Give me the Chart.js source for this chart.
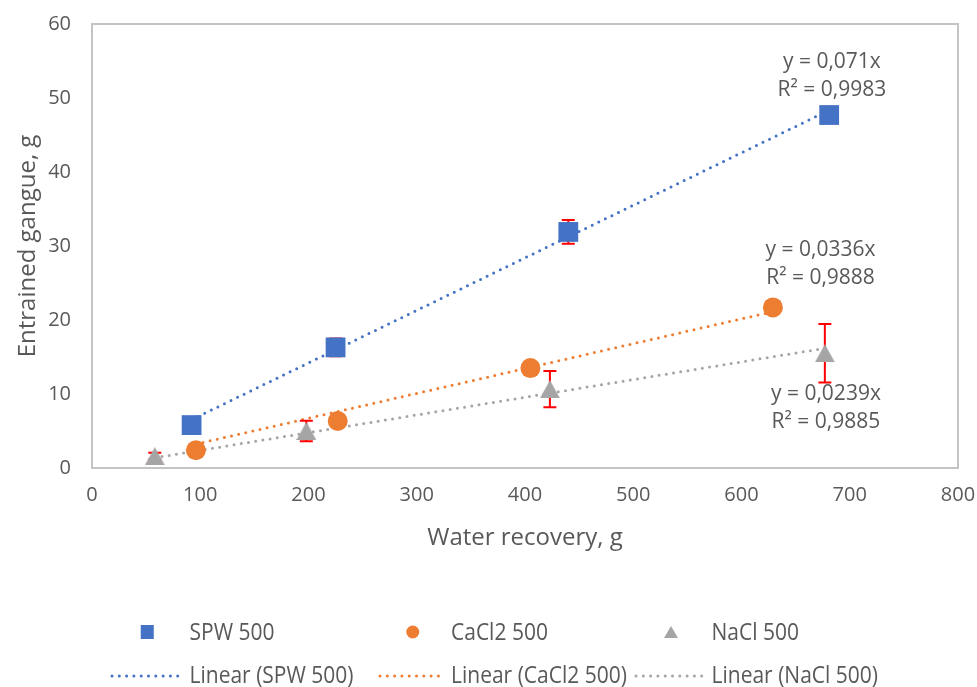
<!DOCTYPE html>
<html>
<head>
<meta charset="utf-8">
<script src="https://cdn.jsdelivr.net/npm/chart.js@4.4.1/dist/chart.umd.min.js"></script>
<style>
  html, body { margin: 0; padding: 0; background: #ffffff; }
</style>
</head>
<body>
<canvas id="chart" width="977" height="687"></canvas>
<script>
// values: water recovery (g) vs entrained gangue (g)
const seriesNames = ['SPW 500', 'CaCl2 500', 'NaCl 500'];

const spwX = [92, 225, 440, 681];
const spwY = [5.8, 16.3, 31.9, 47.7];
const spwErr = [0, 1.2, 1.6, 0];

const cacl2X = [96, 227, 405, 629];
const cacl2Y = [2.4, 6.35, 13.5, 21.7];
const cacl2Err = [0, 0, 0, 0];

const naclX = [58, 198, 423, 677];
const naclY = [1.6, 5.0, 10.65, 15.5];
const naclErr = [0.45, 1.4, 2.45, 3.95];

// linear trendlines through the origin, as printed on the chart
const slopes = [0.071, 0.0336, 0.0239];
const slopeLabels = ['0,071', '0,0336', '0,0239'];
const r2Labels = ['0,9983', '0,9888', '0,9885'];

const xTicks = [0, 100, 200, 300, 400, 500, 600, 700, 800];
const yTicks = [0, 10, 20, 30, 40, 50, 60];

const COLORS = ['#4472C4', '#ED7D31', '#A5A5A5'];
const TEXT = '#595959';
const FONT = "'Open Sans', 'DejaVu Sans', sans-serif";

function toPoints(xs, ys) {
  return xs.map((x, i) => ({ x: x, y: ys[i] }));
}

// trendline from smallest to largest x of the series
function trendPoints(xs, slope) {
  const lo = Math.min(...xs), hi = Math.max(...xs);
  return [{ x: lo, y: slope * lo }, { x: hi, y: slope * hi }];
}

// Excel-style triangle, centred on its bounding box
function triangleImg(w, h, color) {
  const c = document.createElement('canvas');
  c.width = w; c.height = h;
  const g = c.getContext('2d');
  g.fillStyle = color;
  g.beginPath();
  g.moveTo(w / 2, 0);
  g.lineTo(w, h);
  g.lineTo(0, h);
  g.closePath();
  g.fill();
  return c;
}

const triBig = triangleImg(20, 18, COLORS[2]);
const triSmall = triangleImg(14, 12, COLORS[2]);

const allX = [spwX, cacl2X, naclX];
const allY = [spwY, cacl2Y, naclY];
const allErr = [spwErr, cacl2Err, naclErr];
const markerStyles = ['rect', 'circle', triBig];
const markerRadius = [14, 10, 10];

const datasets = [];
for (let i = 0; i < 3; i++) {
  datasets.push({
    label: seriesNames[i],
    data: toPoints(allX[i], allY[i]),
    errors: allErr[i],
    backgroundColor: COLORS[i],
    borderColor: COLORS[i],
    borderWidth: 0,
    pointStyle: markerStyles[i],
    pointRadius: markerRadius[i],
    pointHoverRadius: markerRadius[i],
    showLine: false,
    order: 1
  });
}
for (let i = 0; i < 3; i++) {
  datasets.push({
    label: 'Linear (' + seriesNames[i] + ')',
    data: trendPoints(allX[i], slopes[i]),
    borderColor: COLORS[i],
    borderWidth: 3,
    borderDash: [0, 7.3],
    borderCapStyle: 'round',
    pointRadius: 0,
    showLine: true,
    fill: false,
    order: 10
  });
}

// plot area frame
const frame = {
  id: 'frame',
  beforeDatasetsDraw(chart) {
    const a = chart.chartArea, ctx = chart.ctx;
    ctx.save();
    ctx.strokeStyle = '#C4C4C4';
    ctx.lineWidth = 2;
    ctx.strokeRect(a.left, a.top, a.right - a.left, a.bottom - a.top);
    ctx.restore();
  }
};

// red error bars, drawn just under each marker series
const errorBars = {
  id: 'errorBars',
  beforeDatasetDraw(chart, args) {
    const ds = chart.data.datasets[args.index];
    if (!ds.errors) return;
    const xs = chart.scales.x, ys = chart.scales.y, ctx = chart.ctx;
    ctx.save();
    ctx.strokeStyle = '#FF0000';
    ctx.lineWidth = 2;
    ds.data.forEach((p, i) => {
      const e = ds.errors[i];
      if (!e) return;
      const px = xs.getPixelForValue(p.x);
      const top = ys.getPixelForValue(p.y + e);
      const bot = ys.getPixelForValue(p.y - e);
      ctx.beginPath();
      ctx.moveTo(px, top); ctx.lineTo(px, bot);
      ctx.moveTo(px - 6.5, top); ctx.lineTo(px + 6.5, top);
      ctx.moveTo(px - 6.5, bot); ctx.lineTo(px + 6.5, bot);
      ctx.stroke();
    });
    ctx.restore();
  }
};

// trendline equations (anchor in data units, baseline of the first line)
const eqAnchors = [[683.5, 54.0], [673, 28.65], [678, 9.2]];
const equations = {
  id: 'equations',
  afterDatasetsDraw(chart) {
    const xs = chart.scales.x, ys = chart.scales.y, ctx = chart.ctx;
    ctx.save();
    ctx.fillStyle = TEXT;
    ctx.font = '21px ' + FONT;
    ctx.textAlign = 'center';
    ctx.textBaseline = 'alphabetic';
    for (let i = 0; i < 3; i++) {
      const px = xs.getPixelForValue(eqAnchors[i][0]);
      const py = ys.getPixelForValue(eqAnchors[i][1]);
      ctx.fillText('y = ' + slopeLabels[i] + 'x', px, py);
      ctx.fillText('R\u00B2 = ' + r2Labels[i], px, py + 28);
    }
    ctx.restore();
  }
};

// legend text in the source is a little taller than it is wide
function tallText(ctx, text, x, y) {
  ctx.save();
  ctx.translate(x, y);
  ctx.scale(1, 1.15);
  ctx.fillText(text, 0, 0);
  ctx.restore();
}

// two-row legend like the Excel one
const legendBox = {
  id: 'legendBox',
  afterDraw(chart) {
    const ctx = chart.ctx;
    const lineStart = [112, 380, 636];
    const lineEnd = [178.5, 441.5, 702];
    const textX = [189.5, 451, 711.5];
    const row1 = 632, row2 = 676;
    ctx.save();
    ctx.font = '21px ' + FONT;
    ctx.fillStyle = TEXT;
    ctx.textBaseline = 'middle';
    ctx.textAlign = 'left';
    for (let i = 0; i < 3; i++) {
      const cx = (lineStart[i] + lineEnd[i]) / 2 + 2;
      ctx.fillStyle = COLORS[i];
      if (i === 0) {
        ctx.fillRect(cx - 6.5, row1 - 7, 13, 14);
      } else if (i === 1) {
        ctx.beginPath();
        ctx.arc(cx, row1, 6.5, 0, Math.PI * 2);
        ctx.fill();
      } else {
        ctx.drawImage(triSmall, cx - 7, row1 - 6);
      }
      ctx.fillStyle = TEXT;
      tallText(ctx, seriesNames[i], textX[i], row1 + 1);

      ctx.strokeStyle = COLORS[i];
      ctx.lineWidth = 3;
      ctx.lineCap = 'round';
      ctx.setLineDash([0, 7.3]);
      ctx.beginPath();
      ctx.moveTo(lineStart[i], row2);
      ctx.lineTo(lineEnd[i], row2);
      ctx.stroke();
      ctx.setLineDash([]);
      tallText(ctx, 'Linear (' + seriesNames[i] + ')', textX[i], row2);
    }
    ctx.restore();
  }
};

new Chart(document.getElementById('chart').getContext('2d'), {
  type: 'scatter',
  data: { datasets: datasets },
  plugins: [frame, errorBars, equations, legendBox],
  options: {
    responsive: false,
    animation: false,
    layout: { padding: { left: 0, top: 24, right: 19, bottom: 119 } },
    plugins: {
      legend: { display: false },
      tooltip: { enabled: false }
    },
    scales: {
      x: {
        type: 'linear',
        min: 0,
        max: 800,
        afterBuildTicks: s => { s.ticks = xTicks.map(v => ({ value: v })); },
        afterFit: s => {
          s.height = 100;
          s.paddingLeft = 0;
          s.paddingRight = 0;
        },
        grid: { display: false, drawTicks: false },
        border: { display: false },
        ticks: {
          padding: 15,
          color: TEXT,
          autoSkip: false,
          maxRotation: 0,
          font: { family: FONT, size: 20 }
        },
        title: {
          display: true,
          text: 'Water recovery, g',
          color: TEXT,
          font: { family: FONT, size: 24 },
          padding: { top: 0, bottom: 15 }
        }
      },
      y: {
        type: 'linear',
        min: 0,
        max: 60,
        afterBuildTicks: s => { s.ticks = yTicks.map(v => ({ value: v })); },
        afterFit: s => {
          s.width = 92;
          s.paddingTop = 0;
          s.paddingBottom = 0;
        },
        grid: { display: false, drawTicks: false },
        border: { display: false },
        ticks: {
          padding: 21,
          color: TEXT,
          font: { family: FONT, size: 20 }
        },
        title: {
          display: true,
          text: 'Entrained gangue, g',
          color: TEXT,
          font: { family: FONT, size: 24 },
          padding: { top: 14, bottom: 0 }
        }
      }
    }
  }
});
</script>
</body>
</html>
